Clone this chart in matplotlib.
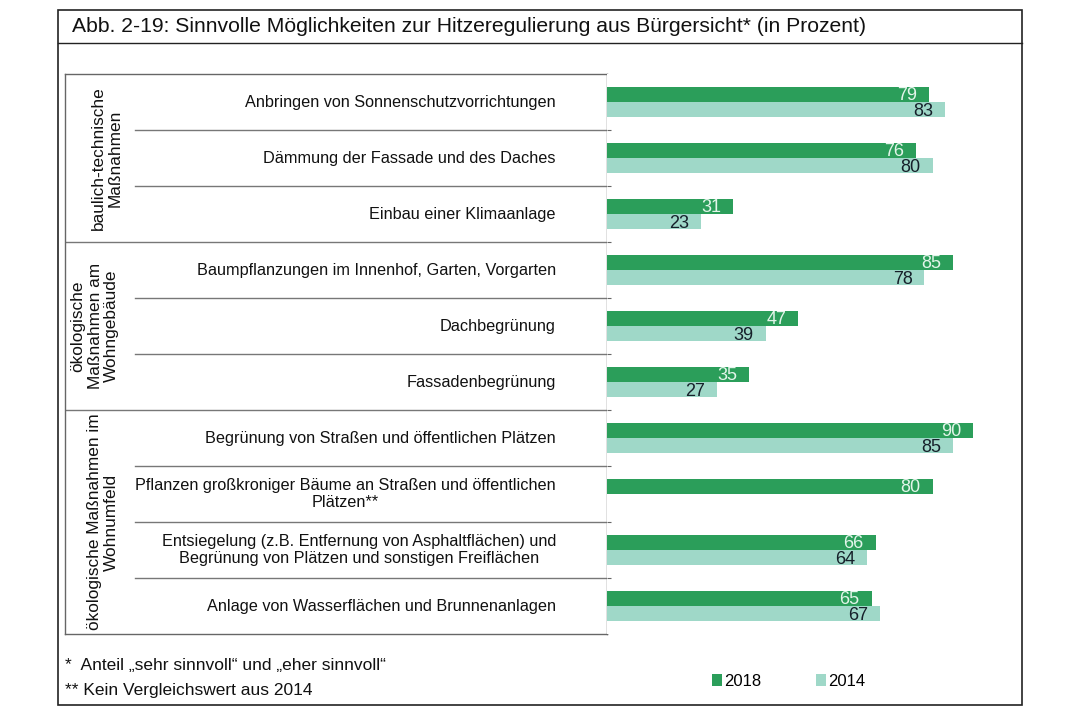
import matplotlib.pyplot as plt
import numpy as np
from matplotlib.patches import Rectangle
from matplotlib.lines import Line2D

plt.rcParams['font.family'] = ['Liberation Sans', 'DejaVu Sans']

# data
categories = [
    "Anbringen von Sonnenschutzvorrichtungen",
    "Dämmung der Fassade und des Daches",
    "Einbau einer Klimaanlage",
    "Baumpflanzungen im Innenhof, Garten, Vorgarten",
    "Dachbegrünung",
    "Fassadenbegrünung",
    "Begrünung von Straßen und öffentlichen Plätzen",
    "Pflanzen großkroniger Bäume an Straßen und öffentlichen\nPlätzen**",
    "Entsiegelung (z.B. Entfernung von Asphaltflächen) und\nBegrünung von Plätzen und sonstigen Freiflächen",
    "Anlage von Wasserflächen und Brunnenanlagen",
]
vals_2018 = [79, 76, 31, 85, 47, 35, 90, 80, 66, 65]
vals_2014 = [83, 80, 23, 78, 39, 27, 85, None, 64, 67]
groups = [
    ("baulich-technische\nMaßnahmen", 0, 2),
    ("ökologische\nMaßnahmen am\nWohngebäude", 3, 5),
    ("ökologische Maßnahmen im\nWohnumfeld", 6, 9),
]
group_x = [107, 95, 103]  # pixel centre of each group label
title = "Abb. 2-19: Sinnvolle Möglichkeiten zur Hitzeregulierung aus Bürgersicht* (in Prozent)"
notes = ["*  Anteil „sehr sinnvoll“ und „eher sinnvoll“", "** Kein Vergleichswert aus 2014"]

c18 = '#2b9e5a'
c14 = '#9fd8c8'

W, H = 1070, 713
fig = plt.figure(figsize=(W / 100, H / 100), dpi=100)


def box(x0, y0, x1, y1):
    return [x0 / W, 1 - y1 / H, (x1 - x0) / W, (y1 - y0) / H]


# outer frame and title
fig.add_artist(Rectangle((58 / W, 1 - 705 / H), 964 / W, 695 / H, transform=fig.transFigure,
                         fill=False, edgecolor='#222222', lw=1.2))
fig.add_artist(Line2D([58 / W, 1022 / W], [1 - 43 / H] * 2, transform=fig.transFigure,
                      color='#222222', lw=1.0))
fig.text(72 / W, 1 - 27 / H, title, fontsize=15.2, va='center', ha='left', color='#111111')

n = len(categories)
y = np.arange(n)

# left table
tab = fig.add_axes(box(65, 74, 607, 634))
tab.set_xlim(65, 607)
tab.set_ylim(n - 0.5, -0.5)
tab.set_xticks([])
tab.set_yticks([])
for s in tab.spines.values():
    s.set_color('#666666')
    s.set_linewidth(1.0)
for k in range(n - 1):
    b = k + 0.5
    full = any(b == g[2] + 0.5 for g in groups)
    tab.plot([65 if full else 135, 607], [b, b], color='#777777', lw=1.0)
for i, lab in enumerate(categories):
    tab.text(556, i, lab, ha='right', va='center', multialignment='center',
             fontsize=11.7, color='#111111', linespacing=1.15)
for (lab, a, b), gx in zip(groups, group_x):
    tab.text(gx, (a + b) / 2, lab, rotation=90, ha='center', va='center',
             multialignment='center', fontsize=12.4, color='#111111', linespacing=1.15)

# bars
ax = fig.add_axes(box(607, 74, 1010, 634))
ax.set_xlim(0, (1010 - 607) / 4.07)
ax.set_ylim(n - 0.5, -0.5)
h = 0.27
v14 = [v if v is not None else 0 for v in vals_2014]
b18 = ax.barh(y - h / 2, vals_2018, height=h, color=c18, label='2018')
b14 = ax.barh(y + h / 2, v14, height=h, color=c14, label='2014')
for i in range(n):
    ax.annotate(str(vals_2018[i]), (vals_2018[i], y[i] - h / 2 + 0.02), xytext=(-8.5, 0),
                textcoords='offset points', ha='right', va='center', fontsize=13, color='#e3f5ea')
    if vals_2014[i] is not None:
        ax.annotate(str(vals_2014[i]), (vals_2014[i], y[i] + h / 2 + 0.03), xytext=(-8.5, 0),
                    textcoords='offset points', ha='right', va='center', fontsize=13, color='#16202a')
for s in ax.spines.values():
    s.set_visible(False)
ax.set_xticks([])
ax.set_yticks(np.arange(n - 1) + 0.5)
ax.set_yticklabels([])
ax.tick_params(axis='y', direction='in', length=3, color='#666666')

# footnotes and legend
fig.text(65 / W, 1 - 665 / H, notes[0], fontsize=12.5, va='center', ha='left', color='#111111')
fig.text(65 / W, 1 - 690 / H, notes[1], fontsize=12.5, va='center', ha='left', color='#111111')
fig.legend(handles=[b18, b14], loc='center left', bbox_to_anchor=(712 / W, 1 - 681 / H),
           ncol=2, frameon=False, fontsize=12, handlelength=0.6, handleheight=0.7,
           handletextpad=0.12, columnspacing=3.3, borderpad=0, borderaxespad=0)

fig.savefig('out.png', dpi=100)
